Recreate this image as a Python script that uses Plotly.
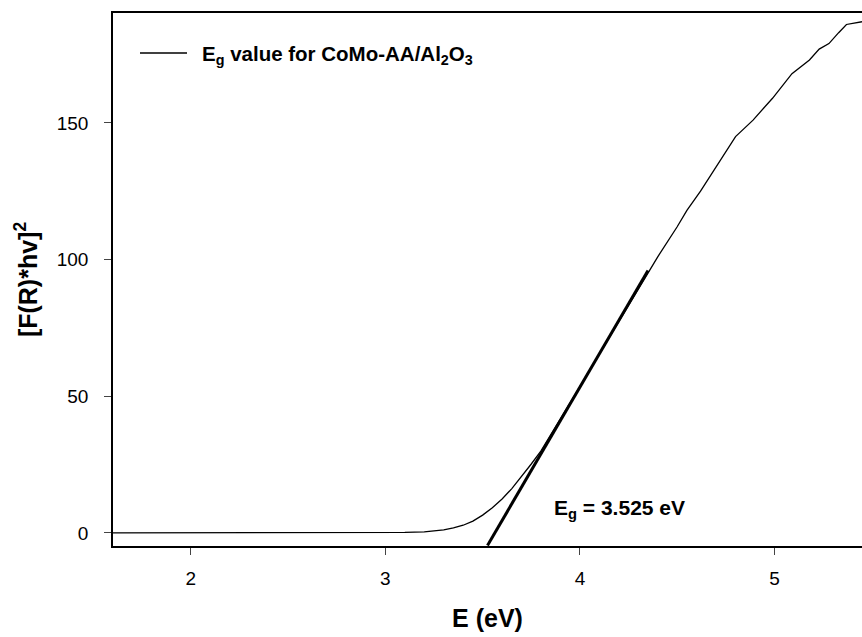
import plotly.graph_objects as go

# Data
energy = [1.6, 1.8, 2.0, 2.2, 2.4, 2.6, 2.8, 3.0, 3.1, 3.2, 3.25, 3.3, 3.35, 3.4, 3.45,
          3.5, 3.55, 3.6, 3.65, 3.7, 3.75, 3.8, 3.9, 4.0, 4.1, 4.2, 4.3, 4.4, 4.5, 4.55,
          4.62, 4.7, 4.8, 4.89, 4.99, 5.09, 5.18, 5.23, 5.28, 5.33, 5.37, 5.45]
fr_hv2 = [0, 0, 0.1, 0.1, 0.1, 0.1, 0.1, 0.1, 0.2, 0.4, 0.7, 1.1, 1.8, 2.8, 4.3,
          6.5, 9.2, 12.4, 16.2, 20.5, 25.2, 30, 41.5, 53.5, 65.5, 77.5, 89.5, 101, 112, 118,
          125, 134, 145, 151, 159, 168, 173, 177, 179, 183, 186, 187]
tangent_x = [3.525, 4.35]
tangent_y = [-4.6, 96]

x_ticks = [2, 3, 4, 5]
y_ticks = [0, 50, 100, 150]

series_name = "<b>E<sub>g</sub> value for CoMo-AA/Al<sub>2</sub>O<sub>3</sub></b>"
eg_label = "<b>E<sub>g</sub> = 3.525 eV</b>"

FONT = "Arial, Liberation Sans, sans-serif"

fig = go.Figure()
fig.add_trace(go.Scatter(x=energy, y=fr_hv2, mode="lines",
                         line=dict(color="black", width=1.3),
                         name=series_name, showlegend=False))
fig.add_trace(go.Scatter(x=tangent_x, y=tangent_y, mode="lines",
                         line=dict(color="black", width=3), showlegend=False))

# legend (drawn manually to match the long line sample)
fig.add_shape(type="line", xref="paper", yref="paper",
              x0=0.036, x1=0.0988, y0=0.925, y1=0.925,
              line=dict(color="black", width=1.3))
fig.add_annotation(x=0.1162, y=0.922, xref="paper", yref="paper",
                   xanchor="left", yanchor="middle", text=series_name, showarrow=False,
                   font=dict(family=FONT, size=20.5, color="black"))

fig.add_annotation(x=3.859, y=8.8, xref="x", yref="y", xanchor="left", yanchor="middle",
                   text=eg_label, showarrow=False,
                   font=dict(family=FONT, size=21, color="black"))

fig.update_layout(
    width=862, height=637,
    margin=dict(l=113, r=0, t=13, b=91),
    paper_bgcolor="white", plot_bgcolor="white",
    font=dict(family=FONT, size=19, color="black"),
    showlegend=False,
    xaxis=dict(range=[1.6, 5.45], tickvals=x_ticks, ticks="outside", ticklen=7,
               tickfont=dict(family=FONT, size=19, color="black"), ticklabelstandoff=7,
               showline=True, linecolor="black", linewidth=1.5, mirror=True,
               showgrid=False, zeroline=False,
               title=dict(text="<b>E (eV)</b>", font=dict(family=FONT, size=25), standoff=22)),
    yaxis=dict(range=[-4.8, 190.2], tickvals=y_ticks, ticks="outside", ticklen=7,
               tickfont=dict(family=FONT, size=19, color="black"), ticklabelstandoff=12,
               showline=True, linecolor="black", linewidth=1.5,
               showgrid=False, zeroline=False,
               title=dict(text="<b>[F(R)*hv]<sup>2</sup></b>", font=dict(family=FONT, size=25), standoff=12)),
)

fig.write_html("out.html")
